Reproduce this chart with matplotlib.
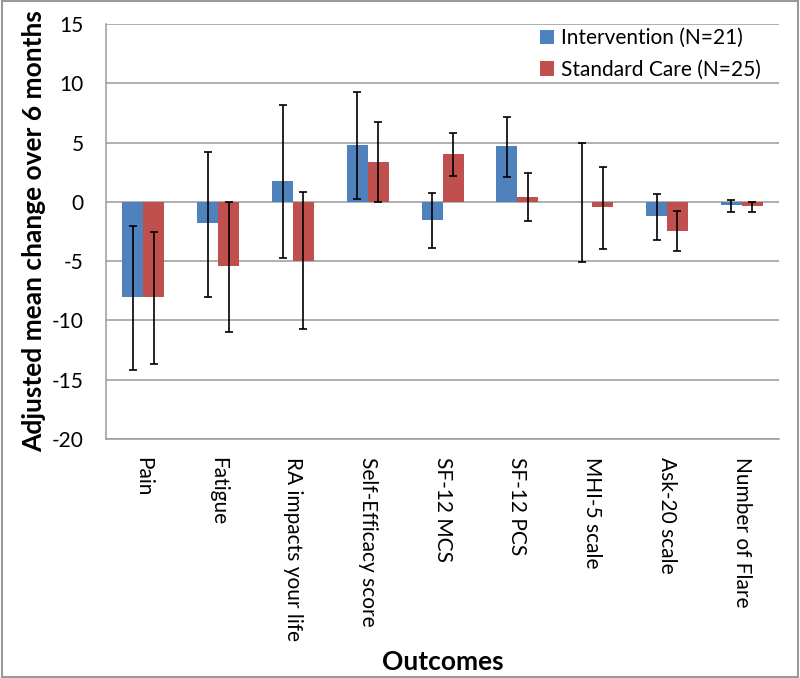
import numpy as np
import matplotlib
matplotlib.use("Agg")
import matplotlib.pyplot as plt
from matplotlib.patches import Rectangle

plt.rcParams['font.family'] = ['Lato', 'DejaVu Sans']
plt.rcParams['axes.unicode_minus'] = False

outcomes = ['Pain', 'Fatigue', 'RA impacts your life', 'Self-Efficacy score',
            'SF-12 MCS', 'SF-12 PCS', 'MHI-5 scale', 'Ask-20 scale', 'Number of Flare']

# Intervention (N=21)
int_mean = [-8.0, -1.8, 1.8, 4.8, -1.55, 4.7, 0.0, -1.2, -0.28]
int_hi = [-2.0, 4.2, 8.2, 9.25, 0.76, 7.2, 5.0, 0.65, 0.17]
int_lo = [-14.2, -8.0, -4.7, 0.28, -3.9, 2.1, -5.1, -3.2, -0.87]

# Standard Care (N=25)
std_mean = [-8.0, -5.4, -5.0, 3.4, 4.05, 0.4, -0.47, -2.45, -0.36]
std_hi = [-2.5, 0.0, 0.8, 6.75, 5.85, 2.4, 2.95, -0.8, 0.0]
std_lo = [-13.7, -11.0, -10.7, -0.05, 2.2, -1.6, -4.0, -4.15, -0.87]

blue = '#4F81BD'
red = '#C0504D'

fig = plt.figure(figsize=(8, 6.78), dpi=100)
ax = fig.add_axes([0.1325, 0.3525, 0.8415, 0.612])

x = np.arange(len(outcomes))
w = 0.28

int_mean = np.array(int_mean)
std_mean = np.array(std_mean)
int_err = [int_mean - np.array(int_lo), np.array(int_hi) - int_mean]
std_err = [std_mean - np.array(std_lo), np.array(std_hi) - std_mean]

ekw = dict(ecolor='black', elinewidth=1.2, capsize=2.6, capthick=1.2)
ax.bar(x - w / 2, int_mean, w, color=blue, yerr=int_err, error_kw=ekw,
       label='Intervention (N=21)', zorder=2)
ax.bar(x + w / 2, std_mean, w, color=red, yerr=std_err, error_kw=ekw,
       label='Standard Care (N=25)', zorder=2)

ax.set_xlim(-0.5, len(outcomes) - 0.5)
ax.set_ylim(-20, 15)
ax.set_yticks(np.arange(-20, 16, 5))
ax.yaxis.grid(True, color='#9a9a9a', linewidth=1.1, zorder=0)
ax.set_axisbelow(True)

for s in ['top', 'right']:
    ax.spines[s].set_visible(False)
ax.spines['left'].set_color('#9a9a9a')
ax.spines['bottom'].set_color('#9a9a9a')
ax.spines['left'].set_linewidth(1.1)
ax.spines['bottom'].set_linewidth(1.1)

ax.tick_params(axis='both', length=0, labelsize=15)
ax.tick_params(axis='y', pad=16)
ax.set_xticks(x)
ax.set_xticklabels(outcomes, rotation=270, va='top', ha='center')
ax.tick_params(axis='x', pad=13)

ax.set_ylabel('Adjusted mean change over 6 months', fontsize=19, fontweight='bold', labelpad=4)
fig.text(0.553, 0.006, 'Outcomes', fontsize=19, fontweight='bold', ha='center', va='bottom')

ax.legend(loc='upper right', bbox_to_anchor=(1.0, 1.035), frameon=False, fontsize=15,
          handlelength=0.7, handleheight=0.7, handletextpad=0.3, labelspacing=0.55)

fig.patches.append(Rectangle((0.002, 0.002), 0.996, 0.996, transform=fig.transFigure,
                             fill=False, edgecolor='#9a9a9a', linewidth=1.5))

fig.savefig('out.png', dpi=100)
